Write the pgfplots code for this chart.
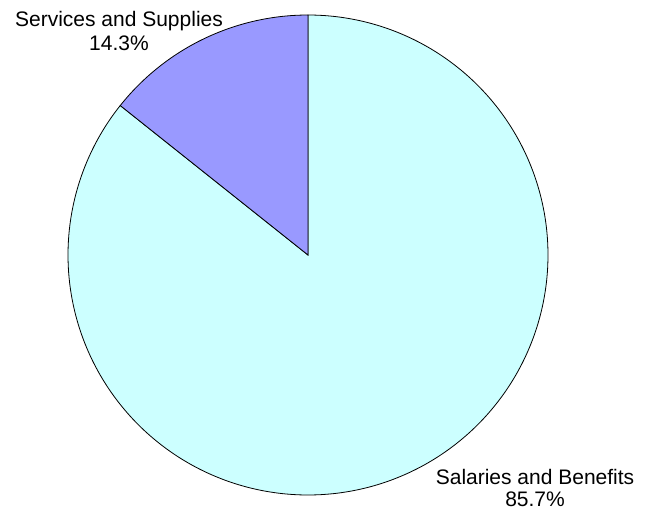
\documentclass[border=0pt]{standalone}
\usepackage{fontspec}
\setmainfont{Liberation Sans}
\usepackage{pgfplots}
\pgfplotsset{compat=1.18}
\definecolor{salcol}{HTML}{CCFFFF}
\definecolor{servcol}{HTML}{9999FF}
\tikzset{lbl/.style={font=\fontsize{21bp}{23bp}\selectfont, inner sep=0pt, anchor=base}}
\begin{document}
\begin{tikzpicture}
\useasboundingbox (0,0) rectangle (652bp,510bp);
\begin{axis}[
  at={(308bp,255bp)}, anchor=center,
  scale only axis, width=480bp, height=480bp,
  xmin=-1, xmax=1, ymin=-1, ymax=1,
  hide axis, clip=false,
]
% Salaries and Benefits: 85.7% -> 308.52 degrees, from 141.48 to 450
\addplot[fill=salcol, draw=black, line width=0.8bp, domain=141.48:450, samples=240, variable=\t, smooth]
  ({cos(\t)},{sin(\t)}) -- (axis cs:0,0) -- cycle;
% Services and Supplies: 14.3% -> 51.48 degrees, from 90 to 141.48
\addplot[fill=servcol, draw=black, line width=0.8bp, domain=90:141.48, samples=60, variable=\t, smooth]
  ({cos(\t)},{sin(\t)}) -- (axis cs:0,0) -- cycle;
\node[lbl] at (axis cs:-0.7875,0.954) {Services and Supplies};
\node[lbl] at (axis cs:-0.7875,0.854) {14.3\%};
\node[lbl] at (axis cs:0.946,-0.958) {Salaries and Benefits};
\node[lbl] at (axis cs:0.946,-1.05) {85.7\%};
\end{axis}
\end{tikzpicture}
\end{document}
